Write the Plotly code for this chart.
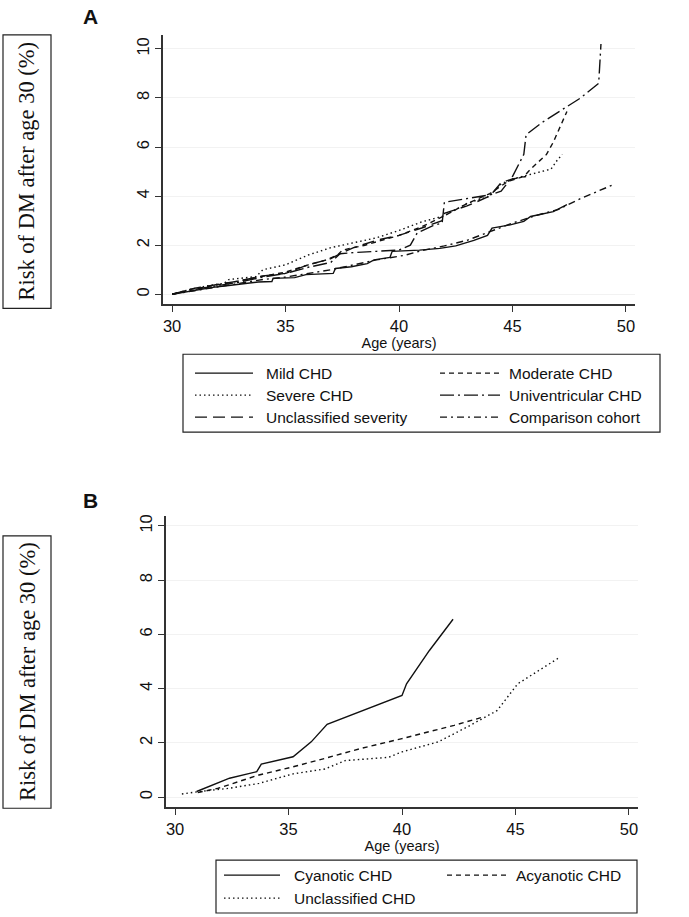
import plotly.graph_objects as go

W, H = 689, 917

# ---- panel A: risk of DM after age 30 by CHD severity ----
mild_age = [30.0, 30.6, 31.2, 31.8, 32.5, 33.2, 33.8, 34.4, 34.45, 35.4, 35.9, 37.1, 37.2, 37.9, 38.6, 38.9,
            39.6, 39.7, 40.9, 41.8, 42.5, 43.3, 43.9, 44.1, 44.9, 45.5, 45.8, 46.8, 47.4]
mild_risk = [0.0, 0.1, 0.2, 0.28, 0.36, 0.44, 0.5, 0.52, 0.65, 0.68, 0.8, 0.85, 1.05, 1.12, 1.25, 1.4,
             1.5, 1.75, 1.8, 1.87, 1.97, 2.2, 2.4, 2.7, 2.83, 2.97, 3.17, 3.37, 3.65]

moderate_age = [30.0, 30.8, 31.5, 32.3, 33.0, 33.8, 35.0, 36.0, 36.8, 37.3, 37.5, 38.5, 39.5, 40.0, 41.0,
                42.0, 43.0, 44.0, 44.8, 45.5, 45.8, 46.5, 46.8, 47.4]
moderate_risk = [0.0, 0.2, 0.3, 0.42, 0.55, 0.7, 0.9, 1.2, 1.4, 1.6, 1.8, 2.0, 2.25, 2.4, 2.75,
                 3.2, 3.7, 4.1, 4.6, 4.8, 5.1, 5.7, 6.2, 7.45]

severe_age = [30.0, 30.8, 31.6, 32.3, 32.5, 33.7, 34.0, 35.0, 36.0, 37.0, 38.0, 39.0, 40.0, 41.0, 42.0,
              43.0, 44.0, 44.5, 45.0, 46.0, 46.7, 47.0, 47.2]
severe_risk = [0.0, 0.2, 0.35, 0.45, 0.6, 0.72, 1.0, 1.2, 1.6, 1.9, 2.1, 2.3, 2.6, 2.95, 3.2,
               3.7, 4.0, 4.5, 4.7, 4.95, 5.1, 5.5, 5.7]

univentricular_age = [30.0, 31.0, 32.0, 33.0, 34.0, 35.0, 36.0, 37.0, 37.4, 38.0, 39.0, 40.0, 40.5, 40.8,
                      41.5, 41.9, 42.0, 43.0, 44.0, 44.5, 45.0, 45.5, 45.6, 46.3, 47.0, 48.0, 48.8, 48.9]
univentricular_risk = [0.0, 0.2, 0.35, 0.5, 0.7, 0.85, 1.1, 1.3, 1.65, 1.7, 1.75, 1.8, 2.0, 2.5,
                       2.8, 2.9, 3.75, 3.9, 4.05, 4.2, 4.8, 5.7, 6.5, 7.0, 7.4, 8.0, 8.6, 10.2]

unclassified_age = [30.0, 31.0, 32.0, 33.0, 34.0, 35.0, 36.0, 37.0, 37.5, 38.0, 39.0, 40.0, 41.0, 41.9,
                    42.0, 43.0, 44.0, 44.5, 45.0, 45.6]
unclassified_risk = [0.0, 0.25, 0.4, 0.55, 0.75, 0.85, 1.2, 1.45, 1.7, 1.9, 2.2, 2.4, 2.7, 3.0,
                     3.3, 3.6, 4.0, 4.55, 4.7, 4.8]

comparison_age = [30.0, 31.0, 32.0, 33.0, 34.0, 35.0, 36.0, 37.0, 38.0, 39.0, 40.0, 40.3, 41.0, 42.0,
                  43.0, 44.0, 45.0, 46.0, 47.0, 48.0, 49.0, 49.4]
comparison_risk = [0.0, 0.15, 0.3, 0.45, 0.6, 0.7, 0.85, 1.0, 1.2, 1.4, 1.55, 1.6, 1.78, 1.97,
                   2.2, 2.55, 2.9, 3.2, 3.45, 3.9, 4.3, 4.45]

# ---- panel B: by cyanosis ----
cyanotic_age = [30.95, 32.4, 33.6, 33.8, 35.2, 36.0, 36.7, 40.0, 40.2, 41.2, 42.25]
cyanotic_risk = [0.21, 0.7, 0.94, 1.22, 1.49, 2.04, 2.69, 3.75, 4.18, 5.4, 6.56]

acyanotic_age = [31.0, 31.9, 33.7, 35.2, 36.6, 38.2, 40.0, 42.3, 43.6]
acyanotic_risk = [0.17, 0.33, 0.82, 1.12, 1.43, 1.8, 2.16, 2.65, 2.96]

unclass_chd_age = [30.3, 31.0, 32.4, 33.7, 35.2, 36.6, 37.5, 39.4, 40.0, 41.6, 42.9, 43.8, 44.2, 45.1, 46.9]
unclass_chd_risk = [0.12, 0.2, 0.33, 0.51, 0.86, 1.04, 1.35, 1.47, 1.67, 2.04, 2.6, 3.0, 3.2, 4.18, 5.13]

x_ticks = [30, 35, 40, 45, 50]
y_ticks = [0, 2, 4, 6, 8, 10]

LINE = '#111111'
SANS = 'Liberation Sans, Arial, sans-serif'
SERIF = 'Liberation Serif, Times New Roman, serif'

dash = {
    'solid': 'solid',
    'dash': '5px,4px',
    'dot': '1.5px,3px',
    'longdashdot': '14px,4px,2px,4px',
    'longdash': '12px,6px',
    'dashdot': '7px,4px,2px,4px',
}

panel_a = [
    ('Mild CHD', mild_age, mild_risk, 'solid'),
    ('Moderate CHD', moderate_age, moderate_risk, 'dash'),
    ('Severe CHD', severe_age, severe_risk, 'dot'),
    ('Univentricular CHD', univentricular_age, univentricular_risk, 'longdashdot'),
    ('Unclassified severity', unclassified_age, unclassified_risk, 'longdash'),
    ('Comparison cohort', comparison_age, comparison_risk, 'dashdot'),
]
panel_b = [
    ('Cyanotic CHD', cyanotic_age, cyanotic_risk, 'solid'),
    ('Acyanotic CHD', acyanotic_age, acyanotic_risk, 'dash'),
    ('Unclassified CHD', unclass_chd_age, unclass_chd_risk, 'dot'),
]


def px(x):
    return x / W


def py(y):
    # pixel from top -> paper fraction from bottom
    return 1 - y / H


fig = go.Figure()

for name, xs, ys, d in panel_a:
    fig.add_trace(go.Scatter(x=xs, y=ys, mode='lines', name=name, xaxis='x', yaxis='y',
                             line=dict(color=LINE, width=1.4, dash=dash[d]), showlegend=False))
for name, xs, ys, d in panel_b:
    fig.add_trace(go.Scatter(x=xs, y=ys, mode='lines', name=name, xaxis='x2', yaxis='y2',
                             line=dict(color=LINE, width=1.4, dash=dash[d]), showlegend=False))

xaxis_common = dict(tickvals=x_ticks, ticks='outside', ticklen=6, tickwidth=1.2, tickcolor='#333',
                    showline=True, linecolor='#333', linewidth=1.5, showgrid=False, zeroline=False,
                    tickfont=dict(family=SANS, size=16.5, color='#111'),
                    title=dict(text='Age (years)', font=dict(family=SANS, size=14.5, color='#111'), standoff=0))
yaxis_common = dict(tickvals=y_ticks, ticks='outside', ticklen=6, tickwidth=1.2, tickcolor='#333',
                    showline=True, linecolor='#333', linewidth=1.5, showgrid=True, gridcolor='#f2f2f2',
                    gridwidth=1, zeroline=False, tickangle=-90,
                    tickfont=dict(family=SANS, size=16.5, color='#111'))

fig.update_layout(
    width=W, height=H,
    margin=dict(l=0, r=0, t=0, b=0),
    paper_bgcolor='white', plot_bgcolor='white',
    xaxis=dict(xaxis_common, domain=[px(163), px(635)], range=[29.6, 50.4], anchor='y'),
    yaxis=dict(yaxis_common, domain=[py(303), py(33)], range=[-0.41, 10.57], anchor='x'),
    xaxis2=dict(xaxis_common, domain=[px(166), px(638)], range=[29.6, 50.4], anchor='y2'),
    yaxis2=dict(yaxis_common, domain=[py(807), py(515)], range=[-0.37, 10.37], anchor='x2'),
)

shapes = []
annotations = []

# boxed y-axis titles
for top, bottom in [(33, 307), (535, 808)]:
    shapes.append(dict(type='rect', xref='paper', yref='paper', x0=px(3), x1=px(51),
                       y0=py(bottom), y1=py(top), line=dict(color='#222', width=1.2)))
    annotations.append(dict(text='Risk of DM after age 30 (%)', xref='paper', yref='paper',
                            x=px(27), y=py((top + bottom) / 2), textangle=-90, showarrow=False,
                            xanchor='center', yanchor='middle',
                            font=dict(family=SERIF, size=22.5, color='#111')))

# panel letters
for letter, y in [('A', 15), ('B', 500)]:
    annotations.append(dict(text='<b>%s</b>' % letter, xref='paper', yref='paper', x=px(90), y=py(y),
                            xanchor='center', yanchor='middle', showarrow=False,
                            font=dict(family=SANS, size=21, color='#111')))


def legend_block(entries, box, rows, cols):
    x0, y0, x1, y1 = box
    shapes.append(dict(type='rect', xref='paper', yref='paper', x0=px(x0), x1=px(x1),
                       y0=py(y1), y1=py(y0), line=dict(color='#222', width=1.2)))
    for i, (name, _, _, d) in enumerate(entries):
        r, c = divmod(i, 2)
        lx0, lx1, tx = cols[c]
        y = rows[r]
        shapes.append(dict(type='line', xref='paper', yref='paper', x0=px(lx0), x1=px(lx1),
                           y0=py(y), y1=py(y), line=dict(color=LINE, width=1.3, dash=dash[d])))
        annotations.append(dict(text=name, xref='paper', yref='paper', x=px(tx), y=py(y),
                                xanchor='left', yanchor='middle', showarrow=False,
                                font=dict(family=SANS, size=15.5, color='#111')))


legend_block(panel_a, (183, 353, 660, 431), [372, 394, 416],
             [(195, 253, 264), (440, 500, 507)])
legend_block(panel_b, (216, 860, 637, 913), [875, 898],
             [(224, 280, 292), (447, 508, 514)])

fig.update_layout(shapes=shapes, annotations=annotations)

fig.write_html('out.html', config={'displayModeBar': False},
               post_script="document.body.style.margin='0';")
